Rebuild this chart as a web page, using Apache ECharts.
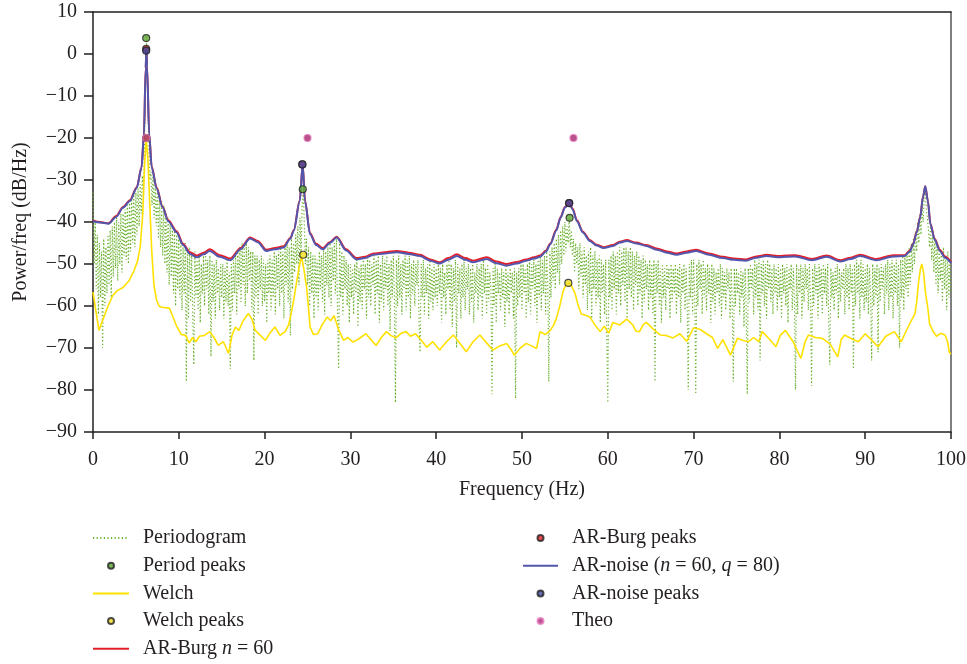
<!DOCTYPE html>
<html>
<head>
<meta charset="utf-8">
<title>Power spectral density</title>
<script src="https://cdn.jsdelivr.net/npm/echarts@6/dist/echarts.min.js"></script>
<style>
  html, body { margin: 0; padding: 0; background: #fff; }
  #chart { width: 967px; height: 664px; }
</style>
</head>
<body>
<div id="chart"></div>
<script>
// periodogram: one value every 0.125 Hz from 0 to 100 Hz (dB/Hz), 40 values per 5 Hz row
const periodStep = 0.125;
const periodDb = [
  -33, -50, -40, -56, -43, -62, -45, -58, -47, -70, -44, -60, -46, -57, -43, -55, -42, -58, -41, -53,
  -40, -51, -39, -54, -40, -50, -38, -52, -38, -48, -37, -49, -36, -50, -35, -47, -34, -45, -33, -46,
  -33, -43, -32, -41, -31, -38, -29, -34, -22, -8, 4, -10, -21, -30, -28, -36, -29, -39, -31, -41,
  -32, -44, -34, -46, -35, -48, -36, -50, -38, -52, -39, -55, -40, -53, -41, -57, -42, -60, -43, -56,
  -44, -58, -45, -61, -46, -57, -45, -78, -47, -63, -46, -59, -48, -62, -74, -47, -58, -49, -61, -48,
  -64, -50, -57, -48, -60, -47, -56, -49, -62, -48, -72, -49, -59, -50, -63, -49, -57, -51, -61, -50,
  -58, -50, -63, -51, -59, -49, -60, -52, -75, -50, -61, -49, -57, -48, -62, -47, -56, -46, -59, -45,
  -55, -46, -60, -45, -57, -46, -54, -47, -61, -47, -73, -48, -58, -48, -62, -49, -56, -48, -60, -49,
  -59, -50, -64, -49, -57, -48, -61, -49, -58, -47, -62, -48, -56, -47, -60, -46, -57, -47, -63, -46,
  -55, -45, -59, -46, -67, -44, -56, -45, -52, -43, -50, -41, -55, -39, -48, -36, -32.5, -40, -50, -44,
  -55, -46, -60, -47, -57, -48, -63, -48, -58, -49, -61, -47, -56, -48, -59, -46, -62, -47, -55, -46,
  -58, -45, -60, -46, -54, -45, -57, -44, -61, -75, -45, -58, -47, -62, -48, -56, -49, -60, -50, -64,
  -50, -58, -51, -62, -50, -57, -49, -65, -51, -59, -50, -61, -49, -56, -50, -63, -48, -58, -49, -60,
  -50, -55, -48, -62, -49, -57, -48, -64, -50, -59, -48, -61, -49, -56, -48, -60, -50, -66, -49, -58,
  -48, -57, -83, -49, -60, -48, -58, -50, -62, -49, -56, -48, -61, -49, -58, -48, -63, -50, -57, -49,
  -60, -50, -55, -49, -64, -71, -50, -58, -49, -62, -51, -57, -50, -63, -49, -59, -51, -61, -50, -58,
  -51, -60, -50, -57, -51, -64, -50, -58, -52, -62, -50, -56, -49, -61, -50, -65, -51, -59, -49, -70,
  -50, -57, -51, -63, -50, -58, -49, -61, -51, -56, -50, -62, -51, -59, -50, -64, -52, -57, -50, -61,
  -51, -58, -50, -63, -49, -57, -51, -62, -50, -59, -52, -56, -81, -51, -60, -50, -64, -51, -57, -52,
  -61, -51, -58, -52, -65, -51, -59, -52, -62, -51, -57, -52, -63, -51, -82, -52, -60, -51, -58, -50,
  -61, -50, -57, -51, -63, -50, -59, -49, -62, -50, -56, -49, -60, -50, -64, -49, -58, -48, -61, -49,
  -57, -48, -62, -47, -55, -78, -47, -58, -46, -54, -45, -56, -44, -52, -43, -55, -42, -50, -41, -48,
  -40, -47, -41, -45, -39, -46, -42, -48, -44, -52, -45, -50, -46, -56, -45, -53, -47, -58, -46, -55,
  -48, -61, -47, -57, -46, -63, -48, -56, -47, -60, -49, -58, -48, -64, -49, -57, -50, -62, -49, -67,
  -83, -49, -58, -48, -61, -47, -56, -48, -62, -47, -57, -46, -60, -47, -55, -46, -59, -46, -63, -47,
  -56, -46, -58, -47, -61, -48, -55, -47, -60, -48, -57, -49, -63, -48, -59, -49, -56, -50, -61, -49,
  -58, -50, -62, -49, -78, -50, -57, -49, -60, -51, -64, -50, -58, -51, -61, -50, -56, -51, -63, -50,
  -59, -51, -57, -50, -62, -51, -58, -50, -64, -51, -57, -50, -61, -51, -59, -80, -50, -58, -49, -62,
  -49, -57, -81, -50, -60, -49, -56, -50, -62, -49, -58, -51, -61, -50, -57, -51, -64, -50, -59, -51,
  -62, -52, -57, -51, -60, -50, -63, -51, -58, -52, -61, -51, -56, -52, -63, -51, -59, -78, -51, -60,
  -51, -57, -52, -62, -51, -58, -52, -65, -51, -60, -81, -51, -59, -50, -56, -51, -62, -49, -58, -50,
  -61, -49, -73, -50, -57, -49, -60, -50, -63, -49, -56, -50, -59, -51, -62, -50, -57, -51, -61, -50,
  -58, -51, -63, -50, -57, -51, -60, -50, -64, -51, -56, -50, -61, -51, -58, -80, -50, -62, -51, -57,
  -50, -63, -51, -59, -50, -56, -51, -61, -50, -58, -79, -51, -60, -50, -57, -51, -63, -50, -58, -51,
  -62, -50, -57, -51, -60, -50, -64, -74, -51, -58, -52, -61, -51, -57, -50, -63, -51, -59, -52, -56,
  -51, -62, -50, -58, -51, -61, -50, -57, -51, -75, -50, -60, -49, -57, -50, -63, -49, -58, -50, -61,
  -51, -59, -50, -62, -51, -57, -73, -50, -60, -51, -58, -50, -71, -51, -59, -50, -56, -51, -62, -50,
  -57, -49, -61, -50, -58, -49, -63, -50, -57, -49, -60, -50, -70, -49, -58, -48, -61, -48, -56, -47,
  -58, -46, -55, -45, -52, -44, -50, -42, -47, -40, -45, -38, -43, -36, -40, -34, -33, -37, -39, -42,
  -46, -41, -49, -43, -52, -44, -55, -45, -57, -46, -54, -47, -59, -46, -56, -48, -61, -47, -58, -49,
  -57
];

// Welch estimate
const welchHz = [0, 0.4, 0.7, 1.2, 1.7, 2.3, 2.8, 3.5, 4.2, 4.8, 5.2, 5.5, 5.8, 6.0, 6.2, 6.4, 6.6, 6.85, 7.1, 7.4,
  7.7, 8.0, 8.9, 9.3, 9.7, 10.3, 10.8, 11.2, 11.6, 12.0, 12.4, 13.0, 13.6, 14.1, 14.6, 15.2, 15.8, 16.2, 16.6, 17.0,
  17.5, 18.1, 18.5, 18.9, 19.5, 20.1, 20.6, 21.2, 21.8, 22.4, 22.8, 23.1, 23.4, 23.7, 24.0, 24.3, 24.6, 24.9, 25.1, 25.3,
  25.7, 26.2, 26.7, 27.3, 27.7, 28.1, 28.6, 29.2, 29.7, 30.3, 31.0, 31.8, 32.4, 33.0, 33.6, 34.2, 34.7, 35.3, 35.9, 36.5,
  37.0, 37.6, 38.2, 38.9, 39.6, 40.4, 41.2, 42.0, 42.8, 43.5, 44.3, 45.1, 45.8, 46.6, 47.4, 48.2, 48.7, 49.1, 49.8, 50.5,
  51.1, 51.7, 52.1, 52.7, 53.3, 53.7, 54.0, 54.4, 54.8, 55.1, 55.5, 55.8, 56.2, 56.5, 56.9, 57.4, 57.9, 58.5, 59.1, 59.6,
  60.1, 60.6, 61.4, 62.2, 62.9, 63.3, 63.7, 64.1, 64.5, 65.3, 66.1, 66.8, 67.6, 68.4, 69.2, 70.0, 70.8, 71.5, 72.2, 72.8,
  73.4, 74.3, 75.1, 75.8, 76.4, 77.0, 77.6, 78.0, 78.8, 79.6, 80.1, 80.7, 81.6, 82.5, 83.0, 83.4, 84.2, 85.0, 85.9, 86.8,
  87.2, 87.6, 88.4, 89.2, 90.0, 90.7, 91.5, 92.4, 93.4, 94.2, 95.0, 95.5, 95.8, 96.0, 96.2, 96.45, 96.6, 96.8, 97.0, 97.3,
  97.5, 97.9, 98.3, 98.8, 99.3, 99.6, 99.8, 100];
const welchDb = [-56.7, -62, -65.8, -63, -60.3, -57.5, -56.4, -55.6, -54, -51.5, -49.2, -46, -38, -27, -20, -25, -35, -47, -55, -58.5,
  -60, -60.3, -60.5, -62.5, -64.6, -66.8, -67, -68.8, -67.5, -68.5, -67.2, -67, -66.1, -67.5, -69.4, -68.5, -71.3, -67, -65, -65.8,
  -63.5, -61.8, -63, -65.8, -67, -68.2, -66.5, -65, -67, -66.1, -64.5, -61.8, -58.5, -54.7, -51, -48.1, -51.5, -55.6, -60, -65,
  -66.8, -66.6, -64.5, -62.6, -63.5, -62.3, -65.5, -68.2, -67.5, -68.6, -67.8, -66.6, -68, -69.4, -67.5, -66.1, -67, -67.6, -66.5, -66.1,
  -67.2, -66.6, -68, -69.8, -68.5, -70.5, -68.5, -66.9, -69, -70.9, -68.5, -66.9, -68.6, -70.5, -69.5, -68.9, -70.3, -71.7, -70, -68.9,
  -69.5, -70.1, -66.1, -66.8, -65.8, -64.5, -63, -60, -56.4, -55, -54.5, -55.3, -57.1, -59.5, -61.9, -62.2, -62.6, -64.5, -66.1, -64.8,
  -66.5, -63.9, -64.5, -63.1, -64.5, -66, -66.1, -64.5, -63.9, -65.5, -66.9, -67, -67.6, -66.6, -68.4, -65.2, -65.6, -66.6, -67.5, -70.1,
  -68, -71.7, -67.7, -68.2, -68.5, -67.5, -68.5, -66.1, -67.8, -69.7, -67, -65.8, -68.5, -72.5, -68.5, -66.9, -67.5, -67.7, -69, -72.1,
  -68, -66.9, -67.8, -68.5, -66.6, -68, -69.7, -67.2, -66.1, -68.5, -65, -63, -61.8, -59, -54.7, -51, -50, -52, -56.4, -60.5,
  -64.2, -66, -67.2, -66.5, -66.9, -68.5, -71, -71.5];

// AR-noise (n = 60, q = 80)
const arHz = [0, 0.8, 1.8, 2.7, 3.5, 4.3, 5.1, 5.66, 5.94, 6.14, 6.22, 6.3, 6.55, 6.84, 7.42, 8.1, 8.77, 9.75, 10.5, 11.3,
  12.1, 12.9, 13.6, 14.8, 16.0, 17.2, 18.3, 19.2, 20.2, 21.2, 22.2, 23.0, 23.4, 24.1, 24.44, 24.7, 25.3, 26.0, 26.8, 27.6,
  28.4, 29.5, 30.7, 31.7, 32.7, 34.0, 35.4, 36.8, 38.1, 39.3, 40.4, 41.4, 42.4, 43.4, 44.3, 45.9, 47.0, 48.2, 49.4, 50.5,
  51.4, 52.1, 52.8, 53.3, 54.0, 54.5, 55.0, 55.5, 55.9, 56.4, 57.1, 57.9, 58.7, 59.5, 60.6, 61.4, 62.2, 63.3, 64.5, 65.7,
  66.9, 68.0, 69.2, 70.3, 71.8, 73.4, 74.7, 76.1, 77.3, 78.5, 80.1, 81.8, 83.8, 85.5, 87.1, 88.3, 89.4, 91.3, 93.3, 94.6,
  95.2, 95.6, 96.0, 96.4, 96.75, 97.0, 97.3, 97.6, 98.1, 98.7, 99.3, 100];
const arNoiseDb = [-39.8, -40.1, -40.4, -38.8, -36.6, -35, -31.9, -27.1, -19.2, -3.4, 0.8, -3, -19.2, -27, -32, -36.5, -39.8, -42.5, -45.5, -47.6,
  -48.4, -47.7, -46.9, -48.3, -49.1, -46.5, -43.9, -44.8, -46.9, -46.5, -46.1, -44, -42.1, -35, -26.3, -35, -42.9, -45.5, -46.5, -45,
  -43.7, -46.8, -48.9, -48.6, -47.8, -47.5, -47.2, -47.6, -48.1, -49.2, -49.9, -49, -48.1, -49, -49.6, -48.8, -49.8, -50.4, -49.9, -49.2,
  -48.7, -48.3, -47, -45.3, -42, -39, -36.6, -35.5, -37, -39.8, -42.5, -44.5, -45.6, -46.2, -45.7, -44.9, -44.5, -45.1, -45.7, -46.6,
  -47.3, -47.8, -47.3, -46.9, -47.8, -48.6, -49, -49.2, -48.5, -48.1, -48.4, -48.2, -49.1, -48.3, -49.4, -48.8, -48.1, -49.1, -48.2, -48.1,
  -47, -45.3, -42.5, -39, -34, -31.5, -35, -40.6, -44.2, -46.9, -48.5, -49.8];
// AR-Burg n = 60 (same grid, runs a little above AR-noise on the flat parts)
const arBurgDb = [-39.6, -40, -40.3, -38.6, -36.4, -34.8, -31.7, -26.9, -19, -3.2, 1.2, -2.8, -19, -26.8, -31.8, -36.3, -39.6, -42.2, -45.2, -47.2,
  -48, -47.3, -46.5, -47.9, -48.7, -46.2, -43.7, -44.5, -46.6, -46.2, -45.8, -43.8, -41.9, -34.8, -26.3, -34.8, -42.7, -45.2, -46.2, -44.8,
  -43.5, -46.5, -48.6, -48.3, -47.5, -47.2, -46.9, -47.3, -47.8, -48.9, -49.6, -48.6, -47.7, -48.6, -49.2, -48.4, -49.4, -50, -49.5, -48.9,
  -48.4, -48, -46.8, -45.1, -41.8, -38.8, -36.4, -35.5, -36.8, -39.6, -42.3, -44.3, -45.4, -46, -45.5, -44.7, -44.3, -44.9, -45.5, -46.3,
  -47, -47.5, -47, -46.6, -47.5, -48.3, -48.7, -48.9, -48.2, -47.8, -48.1, -47.9, -48.8, -48, -49.1, -48.5, -47.8, -48.8, -47.9, -47.9,
  -46.8, -45.1, -42.3, -38.8, -33.8, -31.5, -34.8, -40.4, -44, -46.6, -48.2, -49.5];

// detected peaks [Hz, dB/Hz]
const periodPeaks = [[6.2, 3.8], [24.45, -32.2], [55.55, -39]];
const welchPeaks = [[6.2, -20], [24.5, -47.8], [55.4, -54.5]];
const burgPeaks = [[6.2, 1.2], [24.4, -26.3], [55.5, -35.5]];
const noisePeaks = [[6.2, 0.8], [24.4, -26.3], [55.5, -35.5]];
const theoPeaks = [[6.2, -20], [25, -20], [56, -20]];

const xTicks = { min: 0, max: 100, step: 10 };
const yTicks = { min: -90, max: 10, step: 10 };

const serif = '"Liberation Serif", "DejaVu Serif", serif';
const ink = '#231f20';

const zip = (xs, ys) => xs.map((x, i) => [x, ys[i]]);
const periodData = periodDb.map((v, i) => [i * periodStep, v]);

function peakSeries(name, data, color, border) {
  return {
    name,
    type: 'scatter',
    data,
    symbolSize: 7,
    itemStyle: { color, borderColor: border || '#222', borderWidth: 1.2 },
    z: 5,
  };
}

// line series: no symbols, and a hidden legend dot
function curve(name, data, color, width, extra) {
  return Object.assign({
    name,
    type: 'line',
    data,
    symbol: 'none',
    showSymbol: false,
    lineStyle: { color, width },
    itemStyle: { color, opacity: 0 },
  }, extra);
}

const chart = echarts.init(document.getElementById('chart'), null, { renderer: 'canvas' });

const legendText = {
  fontFamily: serif,
  fontSize: 20,
  color: ink,
  lineHeight: 20,
  padding: [0, 0, 0, 9],
  rich: { i: { fontFamily: serif, fontSize: 20, lineHeight: 20, fontStyle: 'italic', color: ink } },
};
const italicVars = (name) => name.replace(/\b([nq]) =/g, '{i|$1} =');
const plainAxis = { onZero: false, show: true, lineStyle: { color: ink, width: 1.5 } };

chart.setOption({
  animation: false,
  grid: { left: 93, right: 16, top: 12, bottom: 232, containLabel: false, outerBoundsMode: 'none' },
  legend: [
    {
      orient: 'vertical',
      left: 92,
      top: 528,
      height: 200,
      padding: 0,
      itemWidth: 36,
      itemHeight: 6,
      itemGap: 7.7,
      textStyle: legendText,
      formatter: italicVars,
      data: ['Periodogram', 'Period peaks', 'Welch', 'Welch peaks', 'AR-Burg n = 60'],
    },
    {
      orient: 'vertical',
      left: 522,
      top: 528,
      height: 200,
      padding: 0,
      itemWidth: 35,
      itemHeight: 6,
      itemGap: 7.7,
      textStyle: legendText,
      formatter: italicVars,
      data: ['AR-Burg peaks', 'AR-noise (n = 60, q = 80)', 'AR-noise peaks', 'Theo'],
    },
  ],
  xAxis: [
    {
      type: 'value',
      min: xTicks.min,
      max: xTicks.max,
      interval: xTicks.step,
      name: 'Frequency (Hz)',
      nameLocation: 'middle',
      nameGap: 48,
      nameTextStyle: { fontFamily: serif, fontSize: 20, color: ink },
      axisLine: plainAxis,
      axisTick: { show: true, inside: false, length: 7, lineStyle: { color: ink, width: 1.5 } },
      axisLabel: { margin: 18, fontFamily: serif, fontSize: 20, color: ink },
      splitLine: { show: false },
    },
    {
      type: 'value',
      position: 'top',
      min: xTicks.min,
      max: xTicks.max,
      axisLine: plainAxis,
      axisTick: { show: false },
      axisLabel: { show: false },
      splitLine: { show: false },
    },
  ],
  yAxis: [
    {
      type: 'value',
      min: yTicks.min,
      max: yTicks.max,
      interval: yTicks.step,
      name: 'Power/freq (dB/Hz)',
      nameLocation: 'middle',
      nameGap: 62,
      nameTextStyle: { fontFamily: serif, fontSize: 20, color: ink },
      axisLine: plainAxis,
      axisTick: { show: true, inside: false, length: 9, lineStyle: { color: ink, width: 1.5 } },
      axisLabel: {
        margin: 16,
        fontFamily: serif,
        fontSize: 20,
        color: ink,
        formatter: (v) => String(v).replace('-', '\u2212'),
      },
      splitLine: { show: false },
    },
    {
      type: 'value',
      position: 'right',
      min: yTicks.min,
      max: yTicks.max,
      axisLine: { onZero: false, show: true, lineStyle: { color: '#555', width: 1.5 } },
      axisTick: { show: false },
      axisLabel: { show: false },
      splitLine: { show: false },
    },
  ],
  series: [
    curve('Periodogram', periodData, '#6ab12f', 1.2, {
      lineStyle: { color: '#6ab12f', width: 1.2, type: [1.2, 2.4] },
      z: 1,
    }),
    curve('Welch', zip(welchHz, welchDb), '#ffe100', 1.6, { z: 2 }),
    curve('AR-Burg n = 60', zip(arHz, arBurgDb), '#e3202a', 2, { smooth: 0.3, smoothMonotone: 'x', z: 3 }),
    curve('AR-noise (n = 60, q = 80)', zip(arHz, arNoiseDb), '#5257ad', 2, { smooth: 0.3, smoothMonotone: 'x', z: 4 }),
    peakSeries('Period peaks', periodPeaks, '#5ea833'),
    peakSeries('Welch peaks', welchPeaks, '#f2df22'),
    peakSeries('AR-Burg peaks', burgPeaks, '#e41e26'),
    peakSeries('AR-noise peaks', noisePeaks, '#3f4a9e'),
    peakSeries('Theo', theoPeaks, '#a8286f', '#e67cbf'),
  ],
});

window.addEventListener('resize', () => chart.resize());
</script>
</body>
</html>
